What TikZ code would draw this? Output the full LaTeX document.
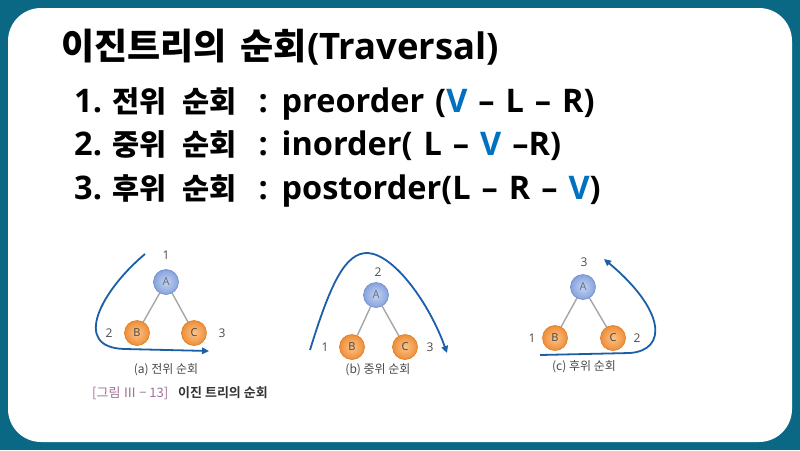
\documentclass[tikz,border=0pt]{standalone}
\usepackage{fontspec}
\setmainfont{Noto Sans CJK KR}[BoldFont={Noto Sans CJK KR Bold}]
\newfontfamily\kbold{Noto Sans CJK KR Bold}
\newfontfamily\kreg{Noto Sans CJK KR}
\newfontfamily\lsans{Open Sans}
\newfontfamily\lsanswide{Open Sans}[WordSpace=1.3]
\newcommand\KT{\kbold\fontsize{36}{40}\selectfont}
\newcommand\KL{\kbold\fontsize{29.5}{34}\selectfont}
\usetikzlibrary{arrows.meta}
\definecolor{frame}{HTML}{0B6885}
\definecolor{vblue}{HTML}{0070C0}
\definecolor{arrowblue}{HTML}{1A5FA8}
\definecolor{capgray}{HTML}{4A4A4A}
\definecolor{figpink}{HTML}{A0709A}
\definecolor{aout}{HTML}{6E8CCB}
\definecolor{ain}{HTML}{C3D4F4}
\definecolor{aedge}{HTML}{87A2DC}
\definecolor{oout}{HTML}{E07A22}
\definecolor{oin}{HTML}{FBC38A}
\definecolor{oedge}{HTML}{EE8E38}
\begin{document}
\begin{tikzpicture}[x=1pt,y=-1pt,
  title/.style={anchor=base west,inner sep=0pt,font=\lsans\bfseries\fontsize{36.5}{40}\selectfont},
  item/.style={anchor=base west,inner sep=0pt,font=\lsanswide\bfseries\fontsize{32.5}{36}\selectfont},
  anode/.style={circle,minimum size=25pt,inner sep=0pt,draw=aout,line width=0.6pt,
    inner color=ain,outer color=aedge,
    font=\lsans\fontsize{11}{12}\selectfont,text=gray!85!black},
  onode/.style={circle,minimum size=25pt,inner sep=0pt,draw=oout,line width=0.6pt,
    inner color=oin,outer color=oedge,
    font=\lsans\fontsize{11}{12}\selectfont,text=gray!55!black},
  num/.style={inner sep=0pt,font=\lsans\fontsize{12}{14}\selectfont,text=capgray},
  captext/.style={inner sep=0pt,font=\kreg\fontsize{12}{14}\selectfont,text=capgray},
  tedge/.style={draw=gray!70,line width=1.4pt},
  trav/.style={draw=arrowblue,line width=1.8pt,-{Triangle[length=7pt,width=6.5pt]}}
]
\useasboundingbox (0,0) rectangle (800,450);
\fill[frame] (0,0) rectangle (800,450);
\fill[white,rounded corners=33pt] (8,8) rectangle (792,442);

\node[title] (t) at (61,59) {{\KT 이진트리의}\hspace{14pt}{\KT 순회}(Traversal)};
\node[item] (l1) at (74,112) {1.\hspace{10pt}{\KL 전위}\hspace{16pt}{\KL 순회}\hspace{22pt}: preorder (\textcolor{vblue}{V} – L – R)};
\node[item] (l2) at (74,155.5) {2.\hspace{10pt}{\KL 중위}\hspace{16pt}{\KL 순회}\hspace{22pt}: inorder( L – \textcolor{vblue}{V} –R)};
\node[item] (l3) at (74,199) {3.\hspace{10pt}{\KL 후위}\hspace{16pt}{\KL 순회}\hspace{22pt}: postorder(L – R – \textcolor{vblue}{V})};

% (a) preorder
\node[anode] (aA) at (166,282) {A};
\node[onode] (aB) at (137,333) {B};
\node[onode] (aC) at (194,333) {C};
\draw[tedge] (aA) -- (aB);
\draw[tedge] (aA) -- (aC);
\node[num] (a1) at (166,255) {1};
\node[num] (a2) at (109,333) {2};
\node[num] (a3) at (222,333) {3};
\coordinate (as) at (145,254);
\coordinate (ae) at (209,351);
\draw[trav] (as) .. controls (102,290) and (70,348) .. (125,349) -- (ae);
\node[captext] (acap) at (166,370) {(a) 전위 순회};
\node[anchor=west,inner sep=0pt,font=\kreg\fontsize{13}{15}\selectfont,text=figpink] (fig) at (92,393) {[그림 Ⅲ − 13]};
\node[anchor=west,inner sep=0pt,font=\kbold\fontsize{13}{15}\selectfont,text=black!80] (figt) at (178,393) {이진 트리의 순회};

% (b) inorder
\node[anode] (bA) at (376,295) {A};
\node[onode] (bB) at (352,347) {B};
\node[onode] (bC) at (405,347) {C};
\draw[tedge] (bA) -- (bB);
\draw[tedge] (bA) -- (bC);
\node[num] (b2) at (378,272) {2};
\node[num] (b1) at (325,347) {1};
\node[num] (b3) at (430,347) {3};
\coordinate (bs) at (310,350);
\coordinate (be) at (447,353);
\draw[trav] (bs) .. controls (330,285) and (345,252) .. (368,253) .. controls (395,255) and (430,305) .. (be);
\node[captext] (bcap) at (378,370) {(b) 중위 순회};

% (c) postorder
\node[anode] (cA) at (583,287) {A};
\node[onode] (cB) at (555,338) {B};
\node[onode] (cC) at (613,338) {C};
\draw[tedge] (cA) -- (cB);
\draw[tedge] (cA) -- (cC);
\node[num] (c3) at (584,262) {3};
\node[num] (c1) at (532,338) {1};
\node[num] (c2) at (637,338) {2};
\coordinate (cs) at (540,355);
\coordinate (ce) at (604,259);
\draw[trav] (cs) -- (630,353) .. controls (668,350) and (665,310) .. (ce);
\node[captext] (ccap) at (584,367) {(c) 후위 순회};
\end{tikzpicture}
\end{document}
